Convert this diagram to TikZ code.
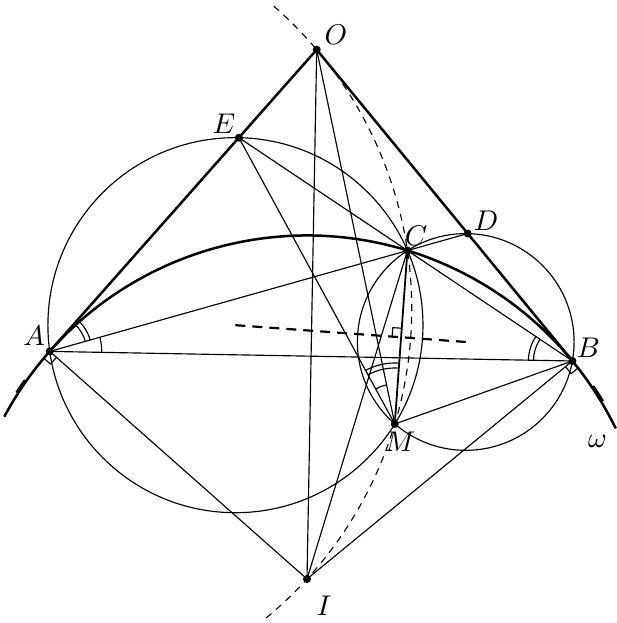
\documentclass[tikz,border=0pt]{standalone}
\usetikzlibrary{calc}
\newcommand\angarc[4]{%
  \draw[thinline] let \p1=($(#2)-(#1)$), \p2=($(#3)-(#1)$),
    \n1={atan2(\y1,\x1)}, \n2={atan2(\y2,\x2)} in
    ($(#1)+(\n1:#4)$) arc[start angle=\n1,end angle=\n2,radius=#4];}
\begin{document}
\begin{tikzpicture}[x=1pt,y=1pt,line join=round,
  thinline/.style={line width=1.15pt},
  midline/.style={line width=1.8pt},
  thickline/.style={line width=2.5pt},
  dot/.style={circle,fill=black,inner sep=0pt,minimum size=8pt},
  lbl/.style={inner sep=0pt,scale=2.85,transform shape},
  dashcirc/.style={line width=1.1pt,dash pattern=on 7pt off 6pt},
  dashcenter/.style={line width=2.2pt,dash pattern=on 10pt off 7pt}]
\useasboundingbox (0,0) rectangle (616,-623);
\def\R{343.5}
% main points
\coordinate (I) at (307,-579);
\coordinate (A) at ($(I)+(138.5:\R)$);
\coordinate (B) at ($(I)+(39.4:\R)$);
\coordinate (C) at ($(I)+(73:\R)$);
\coordinate (tA) at ($(A)!1!90:(I)$);
\coordinate (tB) at ($(B)!1!90:(I)$);
\coordinate (O) at (intersection of A--tA and B--tB);
\coordinate (D) at (intersection of A--C and O--B);
\coordinate (E) at (intersection of B--C and O--A);
% centre P of circle AEC
\coordinate (pm1) at ($(A)!0.5!(E)$);
\coordinate (pr1) at ($(pm1)!1!90:(E)$);
\coordinate (pm2) at ($(E)!0.5!(C)$);
\coordinate (pr2) at ($(pm2)!1!90:(C)$);
\coordinate (P) at (intersection of pm1--pr1 and pm2--pr2);
% centre Q of circle BDC
\coordinate (qm1) at ($(B)!0.5!(D)$);
\coordinate (qr1) at ($(qm1)!1!90:(D)$);
\coordinate (qm2) at ($(D)!0.5!(C)$);
\coordinate (qr2) at ($(qm2)!1!90:(C)$);
\coordinate (Q) at (intersection of qm1--qr1 and qm2--qr2);
% Miquel point M
\coordinate (F) at ($(P)!(C)!(Q)$);
\coordinate (M) at ($(C)!2!(F)$);
% centre S of circle OCI
\coordinate (sm1) at ($(O)!0.5!(C)$);
\coordinate (sr1) at ($(sm1)!1!90:(C)$);
\coordinate (sm2) at ($(C)!0.5!(I)$);
\coordinate (sr2) at ($(sm2)!1!90:(I)$);
\coordinate (S) at (intersection of sm1--sr1 and sm2--sr2);

% circles
\draw[thinline] let \p1=($(A)-(P)$), \n1={veclen(\x1,\y1)} in (P) circle[radius=\n1];
\draw[thinline] let \p1=($(B)-(Q)$), \n1={veclen(\x1,\y1)} in (Q) circle[radius=\n1];
\draw[dashcirc] let \p1=($(O)-(S)$), \n1={veclen(\x1,\y1)} in
  ($(S)+(49:\n1)$) arc[start angle=49,end angle=-51,radius=\n1];
% omega
\draw[thickline] ($(I)+(151.8:\R)$) arc[start angle=151.8,end angle=26,radius=\R];
\draw[line width=1.8pt] ($(I)+(147.3:\R+2)$) arc[start angle=147.3,end angle=144.8,radius=\R+2];
\draw[line width=1.8pt] ($(I)+(31:\R+2)$) arc[start angle=31,end angle=34,radius=\R+2];

% thin lines
\draw[thinline] (O) -- (I);
\draw[thinline] (O) -- (M);
\draw[thinline] (E) -- (M);
\draw[thinline] (E) -- (B);
\draw[thinline] (A) -- (D);
\draw[thinline] (A) -- (B);
\draw[thinline] (A) -- (I);
\draw[thinline] (B) -- (I);
\draw[thinline] (C) -- (I);
\draw[thinline] (M) -- (B);
\draw[midline] (C) -- (M);
% tangents
\draw[thickline] (A) -- (O) -- (B);
% line of centres
\draw[dashcenter] (P) -- (Q);

% right angle marks
\coordinate (a1) at ($(A)!9pt!(I)$);
\coordinate (a2) at ($(A)!9pt!180:(O)$);
\draw[thinline] (a1) -- ($(a1)+(a2)-(A)$) -- (a2);
\coordinate (b1) at ($(B)!9pt!(I)$);
\coordinate (b2) at ($(B)!9pt!180:(O)$);
\draw[thinline] (b1) -- ($(b1)+(b2)-(B)$) -- (b2);
\coordinate (f1) at ($(F)!9pt!(P)$);
\coordinate (f2) at ($(F)!9pt!(C)$);
\draw[thinline] (f1) -- ($(f1)+(f2)-(F)$) -- (f2);

% angle marks
\angarc{A}{C}{O}{37}
\angarc{A}{C}{O}{42}
\angarc{A}{B}{C}{52}
\angarc{B}{C}{A}{39}
\angarc{B}{C}{A}{44}
\angarc{M}{C}{E}{56}
\angarc{M}{C}{E}{61}
\angarc{M}{O}{E}{40}

% points
\foreach \p in {O,E,D,C,A,B,M,I} \node[dot] (d\p) at (\p) {};

% labels
\node[lbl] (lO) at (336,-35) {$O$};
\node[lbl] (lE) at (224,-124) {$E$};
\node[lbl] (lD) at (486,-221) {$D$};
\node[lbl] (lC) at (416,-236) {$C$};
\node[lbl] (lA) at (34,-336) {$A$};
\node[lbl] (lB) at (588.5,-348) {$B$};
\node[lbl] (lM) at (400,-442) {$M$};
\node[lbl] (lI) at (324,-606) {$I$};
\node[lbl] (lw) at (597.5,-441.5) {$\omega$};
\end{tikzpicture}
\end{document}
